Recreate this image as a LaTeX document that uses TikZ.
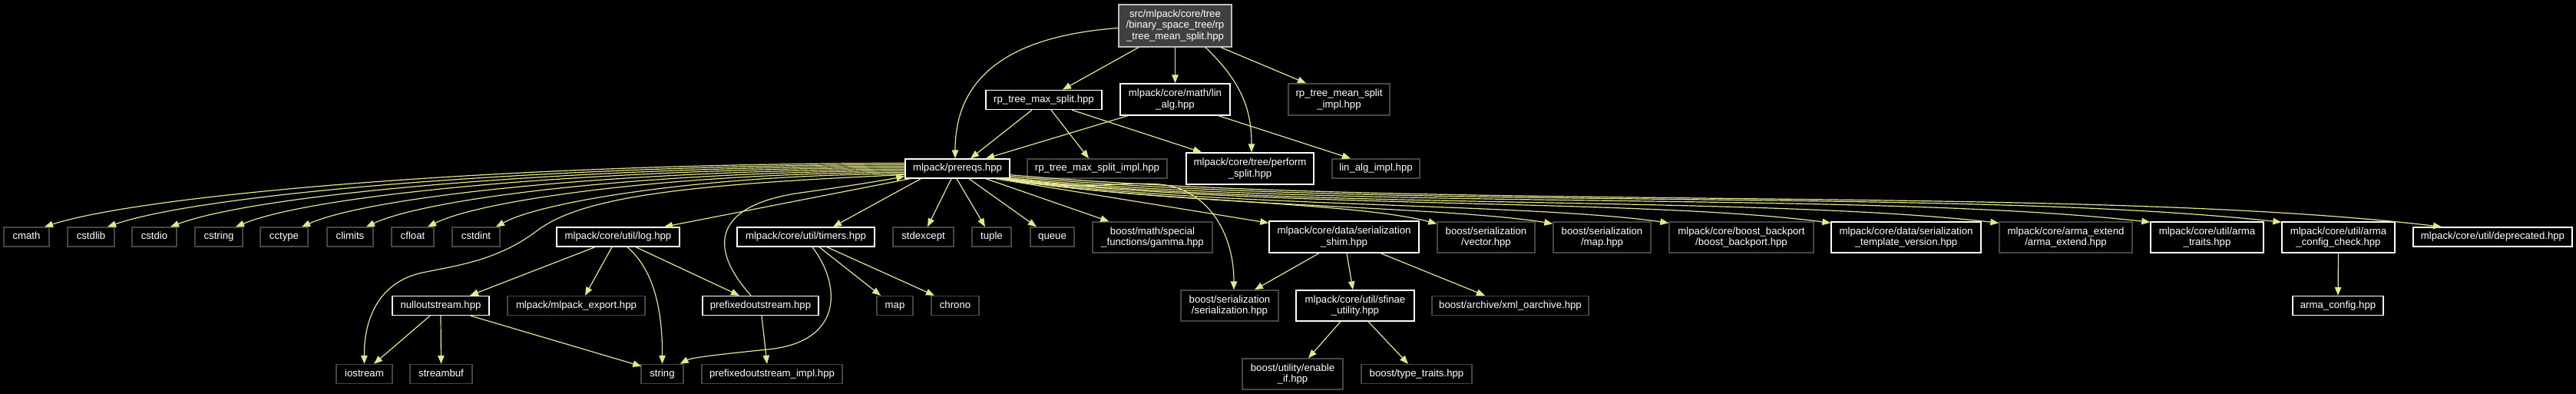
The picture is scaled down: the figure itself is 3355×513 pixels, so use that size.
\documentclass[tikz,border=0pt]{standalone}
\usepackage{fontspec}
\setmainfont{Liberation Sans}
\usetikzlibrary{arrows.meta,calc}
\definecolor{edgec}{RGB}{230,230,140}
\definecolor{darkb}{RGB}{70,70,70}
\definecolor{rootfill}{RGB}{64,64,64}
\definecolor{rootb}{RGB}{191,191,191}
\begin{document}
\begin{tikzpicture}[x=1pt,y=-1pt,
 box/.style={draw, line width=1.4pt, inner sep=0pt, text=white, font=\fontsize{13.2}{14.5}\selectfont},
 doc/.style={box, draw=white},
 ext/.style={box, draw=darkb},
 one/.style={minimum height=25pt, text height=9.6pt, text depth=2.8pt},
 two/.style={minimum height=40pt, align=center},
 edge/.style={draw=edgec, line width=1.2pt, -{Triangle[length=11pt,width=8.5pt,fill=edgec]}}]
\fill[black] (0,0) rectangle (3355,513);
\useasboundingbox (0,0) rectangle (3355,513);

% top
\node[box, fill=rootfill, draw=rootb, align=center, minimum width=147pt, minimum height=55pt] (main) at (1530.5,33.5) {src/mlpack/core/tree\\/binary\_space\_tree/rp\\\_tree\_mean\_split.hpp};
\node[doc,one,minimum width=151pt] (rms) at (1359.5,130) {rp\_tree\_max\_split.hpp};
\node[doc,two,minimum width=143pt,minimum height=41pt] (la) at (1530.5,129.5) {mlpack/core/math/lin\\\_alg.hpp};
\node[ext,two,minimum width=132pt,minimum height=41pt] (rmeani) at (1744,129.5) {rp\_tree\_mean\_split\\\_impl.hpp};
\node[doc,one,minimum width=136pt] (p) at (1247,219.5) {mlpack/prereqs.hpp};
\node[ext,one,minimum width=182pt] (rmsi) at (1429,219.5) {rp\_tree\_max\_split\_impl.hpp};
\node[doc,two,minimum width=166pt,minimum height=41pt] (ps) at (1628,219.5) {mlpack/core/tree/perform\\\_split.hpp};
\node[ext,one,minimum width=114pt] (lai) at (1792,219.5) {lin\_alg\_impl.hpp};

% row 2
\node[ext,one,minimum width=59pt] (cmath) at (34.5,308.5) {cmath};
\node[ext,one,minimum width=61pt] (cstdlib) at (118.5,308.5) {cstdlib};
\node[ext,one,minimum width=58pt] (cstdio) at (201,308.5) {cstdio};
\node[ext,one,minimum width=62pt] (cstring) at (285,308.5) {cstring};
\node[ext,one,minimum width=62pt] (cctype) at (370,308.5) {cctype};
\node[ext,one,minimum width=60pt] (climits) at (456,308.5) {climits};
\node[ext,one,minimum width=55pt] (cfloat) at (537.5,308.5) {cfloat};
\node[ext,one,minimum width=62pt] (cstdint) at (620,308.5) {cstdint};
\node[doc,one,minimum width=160pt] (log) at (805,308.5) {mlpack/core/util/log.hpp};
\node[doc,one,minimum width=179pt] (timers) at (1049.5,308.5) {mlpack/core/util/timers.hpp};
\node[ext,one,minimum width=79pt] (stdexcept) at (1202.5,308.5) {stdexcept};
\node[ext,one,minimum width=51pt] (tuple) at (1291.5,308.5) {tuple};
\node[ext,one,minimum width=57pt] (queue) at (1370.5,308.5) {queue};
\node[ext,two,minimum width=156pt] (gamma) at (1501,309) {boost/math/special\\\_functions/gamma.hpp};
\node[doc,two,minimum width=195pt,minimum height=41pt] (shim) at (1750.5,308.5) {mlpack/core/data/serialization\\\_shim.hpp};
\node[ext,two,minimum width=127pt] (vector) at (1935.5,309) {boost/serialization\\/vector.hpp};
\node[ext,two,minimum width=127pt] (maph) at (2086.5,309) {boost/serialization\\/map.hpp};
\node[ext,two,minimum width=188pt] (backport) at (2268,309) {mlpack/core/boost\_backport\\/boost\_backport.hpp};
\node[doc,two,minimum width=195pt] (stv) at (2482.5,309) {mlpack/core/data/serialization\\\_template\_version.hpp};
\node[ext,two,minimum width=173pt] (armaext) at (2690.5,309) {mlpack/core/arma\_extend\\/arma\_extend.hpp};
\node[doc,two,minimum width=147pt] (armatraits) at (2874.5,309) {mlpack/core/util/arma\\\_traits.hpp};
\node[doc,two,minimum width=147pt] (armacc) at (3045.5,309) {mlpack/core/util/arma\\\_config\_check.hpp};
\node[doc,one,minimum width=207pt] (depr) at (3246.5,308.5) {mlpack/core/util/deprecated.hpp};

% row 3
\node[doc,one,minimum width=126pt] (nullout) at (574,398) {nulloutstream.hpp};
\node[ext,one,minimum width=179pt] (export) at (750.5,398) {mlpack/mlpack\_export.hpp};
\node[doc,one,minimum width=151pt] (prefixed) at (990.5,398) {prefixedoutstream.hpp};
\node[ext,one,minimum width=47pt] (map) at (1165.5,398) {map};
\node[ext,one,minimum width=62pt] (chrono) at (1244,398) {chrono};
\node[ext,two,minimum width=127pt] (serh) at (1601.5,398) {boost/serialization\\/serialization.hpp};
\node[doc,two,minimum width=154pt] (sfinae) at (1765,398) {mlpack/core/util/sfinae\\\_utility.hpp};
\node[ext,one,minimum width=204pt] (xml) at (1967,398) {boost/archive/xml\_oarchive.hpp};
\node[doc,one,minimum width=118pt] (armaconf) at (3045,398) {arma\_config.hpp};

% row 4
\node[ext,one,minimum width=73pt] (iostream) at (474.5,487) {iostream};
\node[ext,one,minimum width=81pt] (streambuf) at (574.5,487) {streambuf};
\node[ext,one,minimum width=55pt] (string) at (862.5,487) {string};
\node[ext,one,minimum width=183pt] (pimpl) at (1005.5,487) {prefixedoutstream\_impl.hpp};
\node[ext,two,minimum width=131pt] (enableif) at (1683.5,487) {boost/utility/enable\\\_if.hpp};
\node[ext,one,minimum width=144pt] (typetr) at (1845,487) {boost/type\_traits.hpp};

% edges from main
\draw[edge] ($(main.west)+(0,3)$) .. controls (1300,48) and (1244,110) .. ($(p.north)+(-3,0)$);
\draw[edge] ($(main.south)+(-47.5,0)$) -- ($(rms.north)+(24.5,0)$);
\draw[edge] (main.south) -- (la.north);
\draw[edge] ($(main.south)+(39.5,0)$) .. controls (1615,105) and (1630,140) .. ($(ps.north)+(2,0)$);
\draw[edge] ($(main.south)+(59.5,0)$) -- ($(rmeani.north)+(-43,0)$);
% rms
\draw[edge] ($(rms.south)+(-15.5,0)$) -- ($(p.north)+(17,0)$);
\draw[edge] ($(rms.south)+(9.5,0)$) -- ($(rmsi.north)+(-11,0)$);
\draw[edge] ($(rms.south)+(36.5,0)$) -- ($(ps.north)+(-63,0)$);
% la
\draw[edge] ($(la.south)+(-61.5,0)$) -- ($(p.north)+(37,0)$);
\draw[edge] ($(la.south)+(56.5,0)$) -- ($(lai.north)+(-33,0)$);

% prereqs to left
\draw[edge] ($(p.west)+(0,-7)$) .. controls (675,212.5) and (193,252) .. ($(cmath.north)+(23.5,0)$);
\draw[edge] ($(p.west)+(0,-5)$) .. controls (711,214.5) and (265,252) .. ($(cstdlib.north)+(21.5,0)$);
\draw[edge] ($(p.west)+(0,-3)$) .. controls (748,216.5) and (337,252) .. ($(cstdio.north)+(21,0)$);
\draw[edge] ($(p.west)+(0,-1)$) .. controls (787,218.5) and (412,252) .. ($(cstring.north)+(22,0)$);
\draw[edge] ($(p.west)+(0,1)$) .. controls (825,220.5) and (487,254) .. ($(cctype.north)+(23,0)$);
\draw[edge] ($(p.west)+(0,3)$) .. controls (863,222.5) and (561,256) .. ($(climits.north)+(21,0)$);
\draw[edge] ($(p.west)+(0,5)$) .. controls (899,224.5) and (632,258) .. ($(cfloat.north)+(19.5,0)$);
\draw[edge] ($(p.west)+(0,7)$) .. controls (939,226.5) and (710,260) .. ($(cstdint.north)+(26,0)$);
\draw[edge] ($(p.west)+(0,8)$) .. controls (900,240) and (760,255) .. (700,300) .. controls (650,338) and (600,345) .. (550,355) .. controls (490,368) and (474,420) .. (iostream.north);
\draw[edge] ($(p.south west)+(7,0)$) -- ($(log.north)+(60,0)$);
\draw[edge] ($(p.south west)+(21,0)$) -- ($(timers.north)+(35.5,0)$);
% prereqs down
\draw[edge] ($(p.south)+(-8,0)$) -- ($(stdexcept.north)+(5.5,0)$);
\draw[edge] ($(p.south)+(-1,0)$) -- ($(tuple.north)+(-8.5,0)$);
\draw[edge] ($(p.south)+(15,0)$) -- ($(queue.north)+(-20.5,0)$);
\draw[edge] ($(p.south)+(37,0)$) -- ($(gamma.north west)+(22,0)$);
\draw[edge] ($(p.south)+(50,0)$) -- ($(shim.north west)+(0,3)$);
\draw[edge] ($(p.south east)+(-18,0)$) .. controls (1400,250) and (1460,236) .. (1510,240) .. controls (1570,245) and (1607,300) .. ($(serh.north)+(5.5,0)$);
% prereqs to right bundle
\draw[edge] ($(p.south east)+(-10,0)$) .. controls (1475,262) and (1760,262) .. ($(vector.north west)+(0,3)$);
\draw[edge] ($(p.south east)+(-8,0)$) .. controls (1520,268) and (1880,268) .. ($(maph.north west)+(0,3)$);
\draw[edge] ($(p.south east)+(-6,0)$) .. controls (1565,270) and (1990,264) .. ($(backport.north west)+(0,2)$);
\draw[edge] ($(p.south east)+(-4,0)$) .. controls (1630,272) and (2140,258) .. ($(stv.north west)+(0,2)$);
\draw[edge] ($(p.south east)+(-2,0)$) .. controls (1695,274) and (2280,254) .. ($(armaext.north west)+(0,2)$);
\draw[edge] ($(p.south east)+(0,-1)$) .. controls (1754,275) and (2430,248) .. ($(armatraits.north west)+(0,1)$);
\draw[edge] ($(p.south east)+(0,-3)$) .. controls (1805,275) and (2555,244) .. ($(armacc.north west)+(0,1)$);
\draw[edge] ($(p.south east)+(0,-5)$) .. controls (1867,276) and (2711,240) .. ($(depr.north)+(-66.5,0)$);

% log
\draw[edge] ($(log.south)+(-30,0)$) -- ($(nullout.north)+(38,0)$);
\draw[edge] ($(log.south)+(-8,0)$) -- ($(export.north)+(11.5,0)$);
\draw[edge] ($(log.south)+(12,0)$) .. controls (850,350) and (863,400) .. (string.north);
\draw[edge] ($(log.south)+(23,0)$) -- ($(prefixed.north)+(-27.5,0)$);
% nullout
\draw[edge] ($(nullout.south)+(-14,0)$) -- ($(iostream.north)+(12.5,0)$);
\draw[edge] (nullout.south) -- (streambuf.north);
\draw[edge] ($(nullout.south)+(39,0)$) -- ($(string.north west)+(1,3)$);
% prefixed
\draw[edge] ($(prefixed.south)+(1.5,0)$) -- ($(pimpl.north)+(-6.5,0)$);
\draw[edge] ($(prefixed.north)+(-12.5,0)$) .. controls (920,320) and (930,265) .. (1050,250) .. controls (1100,243) and (1150,235) .. ($(p.west)+(0,10)$);
% timers
\draw[edge] ($(timers.south)+(8.5,0)$) .. controls (1095,370) and (1100,445) .. (1000,455) .. controls (930,462) and (900,466) .. ($(string.north east)+(-5,0)$);
\draw[edge] ($(timers.south)+(17.5,0)$) -- ($(map.north)+(-18.5,0)$);
\draw[edge] ($(timers.south)+(27.5,0)$) -- ($(chrono.north)+(-27,0)$);
% shim
\draw[edge] ($(shim.south)+(-32.5,0)$) -- ($(serh.north)+(32.5,0)$);
\draw[edge] ($(shim.south)+(3.5,0)$) -- ($(sfinae.north)+(-3,0)$);
\draw[edge] ($(shim.south)+(47.5,0)$) -- ($(xml.north)+(-33,0)$);
% sfinae
\draw[edge] ($(sfinae.south)+(-19,0)$) -- ($(enableif.north)+(20.5,0)$);
\draw[edge] ($(sfinae.south)+(17,0)$) -- ($(typetr.north)+(-11,0)$);
% arma config check
\draw[edge] (armacc.south) -- (armaconf.north);
\end{tikzpicture}
\end{document}
